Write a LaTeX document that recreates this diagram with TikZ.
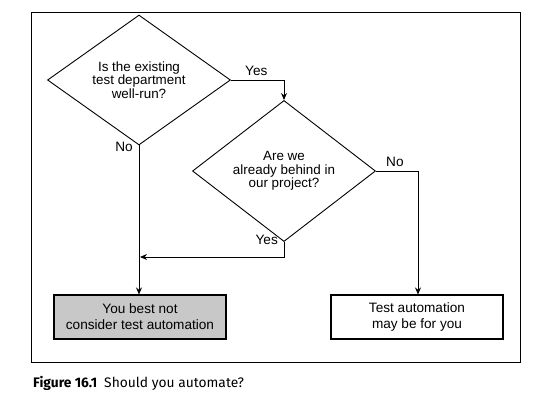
\documentclass[tikz,border=0pt]{standalone}
\usepackage{fontspec}
\setmainfont{Liberation Sans}
\newfontfamily\capfont{Fira Sans}
\usetikzlibrary{shapes.geometric,arrows.meta}
\begin{document}
\begin{tikzpicture}[x=1pt,y=-1pt,
  dtext/.style={font=\fontsize{13.4}{13.5}\selectfont, align=center},
  btext/.style={font=\fontsize{13.6}{16}\selectfont, align=center},
  decision/.style={draw, line width=0.9pt, diamond, inner sep=0pt, minimum width=183pt, minimum height=112pt},
  outcome/.style={draw, line width=1.1pt, rectangle, minimum width=172pt, minimum height=44pt, inner sep=0pt},
  flow/.style={line width=0.9pt, -{Stealth[length=7pt,width=6pt]}},
  lbl/.style={font=\fontsize{13.6}{14}\selectfont, inner sep=0pt}]
\useasboundingbox (0,0) rectangle (542,402);
\node[draw, line width=1pt, minimum width=489pt, minimum height=350pt, inner sep=0pt] (frame) at (275.5,187) {};
\node[decision, dtext] (d1) at (139,80) {Is the existing\\test department\\well-run?};
\node[decision, dtext] (d2) at (284,171) {Are we\\already behind in\\our project?};
\node[outcome, btext, fill={rgb,255:red,200;green,200;blue,200}] (b1) at (140,317) {You best not\\consider test automation};
\node[outcome, btext] (b2) at (417,317) {Test automation\\may be for you};
\coordinate (c1) at (284,80);
\coordinate (c2) at (418,171);
\coordinate (c3) at (284,257);
\coordinate (c4) at (140,257);
\draw[flow] (d1.east) -- (c1) -- (d2.north);
\draw[flow] (d2.east) -- (c2) -- (b2.north -| c2);
\draw[flow] (d1.south) -- (b1.north -| d1.south);
\draw[flow] (d2.south) -- (c3) -- (c4);
\node[lbl, anchor=west] (ly1) at (245,71) {Yes};
\node[lbl, anchor=east] (ln1) at (133,147) {No};
\node[lbl, anchor=west] (ln2) at (386,162) {No};
\node[lbl, anchor=east] (ly2) at (278,240) {Yes};
\node[anchor=base west, inner sep=0pt, font=\capfont\fontsize{13.8}{15}\selectfont] (cap) at (33,387) {\textbf{Figure 16.1}\hspace{7pt}Should you automate?};
\end{tikzpicture}
\end{document}
